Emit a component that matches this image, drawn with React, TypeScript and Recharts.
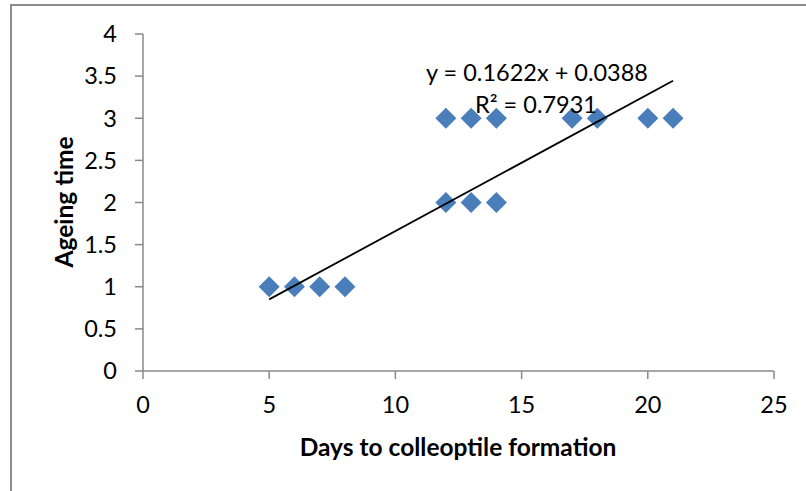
import { ScatterChart, Scatter, XAxis, YAxis } from 'recharts'

const DAYS = [5, 6, 7, 8, 12, 13, 14, 12, 13, 14, 17, 18, 20, 21]
const AGEING = [1, 1, 1, 1, 3, 3, 3, 2, 2, 2, 3, 3, 3, 3]
const X_TICKS = [0, 5, 10, 15, 20, 25]
const Y_TICKS = [0, 0.5, 1, 1.5, 2, 2.5, 3, 3.5, 4]
const TREND_X = [5, 21]
const TREND_Y = [0.8498, 3.445]

const FONT = 'Lato, "Open Sans", sans-serif'
const AXIS = '#888888'
const BLUE = '#4a7ebb'

const points = DAYS.map((x, i) => ({ x, y: AGEING[i] }))
const trend = TREND_X.map((x, i) => ({ x, y: TREND_Y[i] }))

function Diamond({ cx, cy }: any) {
  const r = 10.5
  return (
    <polygon
      points={`${cx},${cy - r} ${cx + r},${cy} ${cx},${cy + r} ${cx - r},${cy}`}
      fill={BLUE}
    />
  )
}

export default function App() {
  return (
    <div style={{ position: 'absolute', left: 0, top: 0, width: 806, height: 491, background: '#fff', overflow: 'hidden', fontFamily: FONT }}>
      {/* outer chart frame */}
      <div style={{ position: 'absolute', left: 10, top: 4, width: 900, height: 900, borderLeft: '2px solid #8c8c8c', borderTop: '2px solid #8c8c8c' }} />
      <ScatterChart width={806} height={491} margin={{ top: 34, right: 32, bottom: 60, left: 0 }}>
        <XAxis
          type="number" dataKey="x" domain={[0, 25]} ticks={X_TICKS} interval={0}
          height={60} tickSize={8} tickMargin={17}
          axisLine={{ stroke: AXIS, strokeWidth: 1.5 }} tickLine={{ stroke: AXIS, strokeWidth: 1.5 }}
          tick={{ fontSize: 23.5, fill: '#000', fontFamily: FONT }}
        />
        <YAxis
          type="number" dataKey="y" domain={[0, 4]} ticks={Y_TICKS} interval={0}
          width={143} tickSize={8} tickMargin={18}
          axisLine={{ stroke: AXIS, strokeWidth: 1.5 }} tickLine={{ stroke: AXIS, strokeWidth: 1.5 }}
          tick={{ fontSize: 23.5, fill: '#000', fontFamily: FONT }}
        />
        <Scatter data={points} shape={<Diamond />} isAnimationActive={false} />
        <Scatter data={trend} line={{ stroke: '#000', strokeWidth: 1.8 }} shape={() => <g />} isAnimationActive={false} />
      </ScatterChart>
      {/* trendline equation */}
      <div style={{ position: 'absolute', left: 537, top: 72, transform: 'translate(-50%, -50%)', fontSize: 23.5, whiteSpace: 'nowrap', color: '#000' }}>
        y = 0.1622x + 0.0388
      </div>
      <div style={{ position: 'absolute', left: 536, top: 104, transform: 'translate(-50%, -50%)', fontSize: 23.5, whiteSpace: 'nowrap', color: '#000' }}>
        R² = 0.7931
      </div>
      {/* axis titles */}
      <div style={{ position: 'absolute', left: 458, top: 446, transform: 'translate(-50%, -50%)', fontSize: 24.5, fontWeight: 'bold', whiteSpace: 'nowrap' }}>
        Days to colleoptile formation
      </div>
      <div style={{ position: 'absolute', left: 63, top: 202, transform: 'translate(-50%, -50%) rotate(-90deg)', fontSize: 24.5, fontWeight: 'bold', whiteSpace: 'nowrap' }}>
        Ageing time
      </div>
    </div>
  )
}
